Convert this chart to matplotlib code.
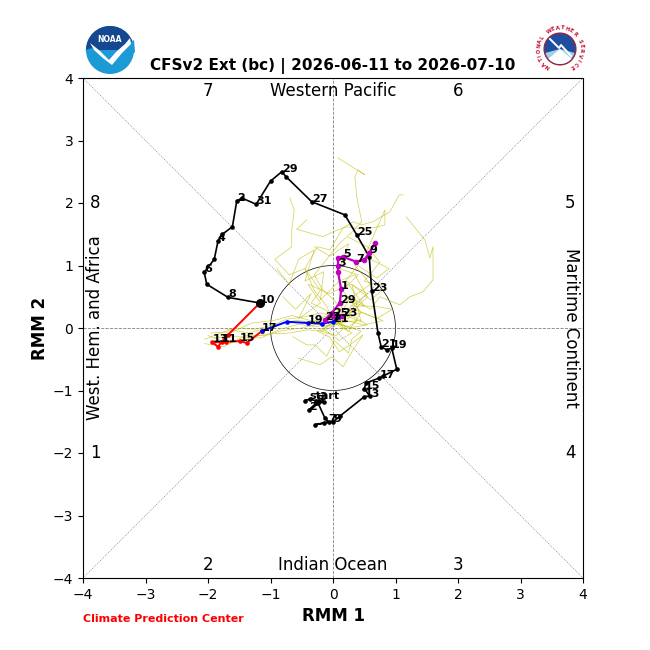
import numpy as np
import matplotlib
matplotlib.use('Agg')
import matplotlib.pyplot as plt
from matplotlib.patches import Circle, Wedge, Polygon

# Observed (black) path
obs_x = [-.45,-.37,-.28,-.22,-.14,-.27,-.38,-.24,-.13,-.07,-.29,-.14,.0,.11,.50,.59,.50,.53,.74,.80,1.02,.94,.86,.77,.72,.62,.58,.38,.19,-.34,-.75,-.82,-1.0,-1.23,-1.46,-1.54,-1.61,-1.77,-1.84,-1.90,-2.06,-2.02,-1.68,-1.17]
obs_y = [-1.16,-1.14,-1.16,-1.16,-1.19,-1.20,-1.31,-1.20,-1.44,-1.50,-1.55,-1.52,-1.50,-1.41,-1.10,-1.09,-.97,-.88,-.80,-.77,-.66,-.32,-.35,-.30,-.08,.59,1.14,1.49,1.81,2.02,2.42,2.50,2.35,1.98,2.08,2.03,1.62,1.50,1.39,1.10,.89,.70,.49,.40]
obs_label_idx = [1,3,5,6,9,12,14,16,18,21,23,25,27,29,31,33,35,38,40,42,43]
obs_labels = ['start','3','5','2','7','9','13','15','17','19','21','23','25','27','29','31','2','4','6','8','10']

# Forecast segments
red_x = [-1.17,-1.68,-1.78,-1.84,-1.93,-1.72,-1.49,-1.38,-1.14]
red_y = [.40,-.11,-.22,-.30,-.23,-.22,-.21,-.24,-.05]
red_label_idx = [2,4,6]
red_labels = ['11','13','15']

blue_x = [-1.14,-.74,-.40,-.18,.0,.10,.14]
blue_y = [-.05,.10,.08,.07,.10,.18,.20]
blue_label_idx = [0,2,4,6]
blue_labels = ['17','19','21','23']

mag_x = [.14,.0,-.13,-.02,.11,.13,.08,.08,.08,.16,.37,.50,.58,.67]
mag_y = [.20,.20,.13,.24,.40,.62,.90,1.00,1.12,1.14,1.06,1.09,1.20,1.36]
mag_label_idx = [1,2,4,5,7,9,10,12]
mag_labels = ['25','27','29','1','3','5','7','9']

# Ensemble members, read by eye
ens_1 = ([.08,.51,.40,.35,.38,.46,.32,.10,-.10,-.30,-.16,.02,.10,.0,.05],
         [2.72,2.45,2.53,2.42,2.10,1.70,1.55,1.35,1.10,.85,.60,.45,.30,.15,.10])
ens_2 = ([1.12,1.06,.91,.64,.46,.32,.16,-.05,-.25,-.45,-.30,-.10,.0],
         [2.13,2.13,1.86,1.70,1.65,1.70,1.60,1.25,1.30,.95,.60,.35,.12])
ens_3 = ([1.17,1.47,1.55,1.60,1.60,1.44,1.23,1.07,.75,.60,.35,.20,.05],
         [1.78,1.41,1.12,1.30,.77,.58,.50,.37,.50,.30,.45,.20,.10])
ens_4 = ([-.69,-.62,-.66,-.66,-.93,-.70,-.45,-.20,-.35,-.10,.05],
         [2.08,1.89,1.57,1.30,1.10,.85,.95,.60,.40,.28,.12])
ens_5 = ([-.42,-.58,-.16,.0,.22,.50,.72,.83,.83,.55,.35,.60,.25,.05],
         [1.73,1.58,1.46,1.54,1.62,1.58,1.62,1.65,1.89,1.25,1.00,.70,.45,.10])
ens_6 = ([-2.05,-1.85,-1.55,-1.25,-.95,-.60,-.35,-.10,.10,.40,.25,.05],
         [-.18,-.10,.0,-.02,.05,.12,.10,.16,.08,.12,.02,.08])
ens_7 = ([-2.05,-1.75,-1.40,-1.10,-.80,-.50,-.25,-.02,.20,.50,.80,.45,.10],
         [-.25,-.30,-.12,-.12,-.04,.0,.06,.03,.12,.05,.12,.25,.10])
ens_8 = ([-1.95,-1.60,-1.30,-.95,-.65,-.30,-.05,.20,.05,-.20,.0],
         [-.08,-.06,.08,.12,.20,.10,.22,.02,-.12,-.05,.08])
ens_9 = ([-2.0,-1.70,-1.45,-1.10,-.70,-.40,-.15,.05,.30,.10,-.15,.02],
         [-.12,-.24,-.20,-.10,-.08,-.03,-.05,.06,-.08,-.20,-.02,.10])
ens_10 = ([-.56,-.21,-.02,.16,.32,.48,.30,.10,-.05,-.25,.02],
          [-.48,-.59,-.46,-.62,-.35,-.11,-.25,-.38,-.15,-.05,.10])
ens_11 = ([-.64,-.42,-.29,-.10,.02,.25,.30,.45,.15,.0],
          [-.14,-.27,-.27,-.45,-.20,-.40,-.18,-.05,.05,.12])
ens_12 = ([-.90,-.70,-.55,-.30,-.45,-.15,-.20,.10,.35,.55,.30,.05],
          [.95,.70,1.10,1.25,.75,.90,.45,.75,.85,.50,.25,.12])
ens_13 = ([.60,.90,.70,.40,.20,.55,.30,.65,.95,.70,.35,.10],
          [1.10,.95,.80,1.00,.75,.55,.35,.35,.30,.15,.30,.10])
ens_14 = ([-.30,-.05,.25,.10,.40,.15,.45,.25,.05],
          [1.30,1.15,1.35,.95,.85,.60,.25,-.05,.10])
ens_15 = ([-1.90,-1.50,-1.15,-.85,-.55,-.25,.0,.30,.55,.25,.0],
          [-.15,-.14,-.16,-.02,.06,.02,.14,.20,.05,.0,.10])
ens_16 = ([-1.70,-1.35,-1.00,-.75,-.45,-.20,.05,.35,.10,-.10],
          [-.02,-.08,.02,.14,.18,.24,.18,.28,.30,.10])
ens_17 = ([-.80,-.60,-.35,-.55,-.20,-.40,-.05,.25,.50,.20,.02],
          [.50,.30,.55,.15,.40,.70,.55,.70,.35,.45,.12])
ens_18 = ([.25,.55,.75,.50,.85,.60,.30,.45,.15,.02],
          [1.45,1.30,1.05,.75,.65,.45,.70,.10,.22,.08])
ens_members = [ens_1, ens_2, ens_3, ens_4, ens_5, ens_6, ens_7, ens_8, ens_9,
               ens_10, ens_11, ens_12, ens_13, ens_14, ens_15, ens_16, ens_17, ens_18]

x_ticks = [-4,-3,-2,-1,0,1,2,3,4]
title = 'CFSv2 Ext (bc) | 2026-06-11 to 2026-07-10'

fig = plt.figure(figsize=(6.5, 6.5), dpi=100)
ax = fig.add_axes([83/650, 72/650, 500/650, 500/650])
ax.set_xlim(-4, 4); ax.set_ylim(-4, 4)
ax.set_xticks(x_ticks); ax.set_yticks(x_ticks)
ax.tick_params(labelsize=10)

ax.plot([-4, 4], [-4, 4], color='gray', lw=0.6, ls=':')
ax.plot([-4, 4], [4, -4], color='gray', lw=0.6, ls=':')
ax.axhline(0, color='gray', lw=0.6, ls='--')
ax.axvline(0, color='gray', lw=0.6, ls='--')
ax.add_patch(Circle((0, 0), 1, fill=False, ec='black', lw=0.5))

for ex, ey in ens_members:
    ax.plot(ex, ey, color='y', lw=0.5, alpha=0.7, zorder=2)

def draw(xs, ys, color, lw, idx, labels, ms=2.3):
    ax.plot(xs, ys, color=color, lw=lw, marker='o', ms=ms, zorder=3)
    for i, s in zip(idx, labels):
        ax.text(xs[i], ys[i], s, fontsize=8, fontweight='bold', color='black', zorder=6)

draw(obs_x, obs_y, 'black', 1.2, obs_label_idx, obs_labels)
ax.plot(obs_x[-1], obs_y[-1], 'o', color='black', ms=5.5, zorder=5)
draw(red_x, red_y, 'red', 1.4, red_label_idx, red_labels)
draw(blue_x, blue_y, 'blue', 1.4, blue_label_idx, blue_labels)
draw(mag_x, mag_y, 'm', 1.6, mag_label_idx, mag_labels, ms=3)

for s, x, y in [('7', -2, 3.8), ('6', 2, 3.8), ('8', -3.8, 2), ('5', 3.8, 2),
                ('1', -3.8, -2), ('4', 3.8, -2), ('2', -2, -3.8), ('3', 2, -3.8)]:
    ax.text(x, y, s, fontsize=12, ha='center', va='center')
ax.text(0, 3.8, 'Western Pacific', fontsize=12, ha='center', va='center')
ax.text(0, -3.8, 'Indian Ocean', fontsize=12, ha='center', va='center')
ax.text(-3.8, 0, 'West. Hem. and Africa', fontsize=12, rotation=90, ha='center', va='center')
ax.text(3.8, 0, 'Maritime Continent', fontsize=12, rotation=-90, ha='center', va='center')

ax.set_xlabel('RMM 1', fontsize=12, fontweight='bold', labelpad=4)
ax.set_ylabel('RMM 2', fontsize=12, fontweight='bold', labelpad=3)
ax.set_title(title, fontsize=11, fontweight='bold', pad=6)
ax.text(-4, -4.70, 'Climate Prediction Center', fontsize=8, fontweight='bold', color='red')

# logos drawn on a full-figure pixel overlay
ov = fig.add_axes([0, 0, 1, 1], zorder=-1)
ov.set_xlim(0, 650); ov.set_ylim(650, 0); ov.axis('off')
# NOAA
ov.add_patch(Circle((110, 50), 24, fc='#1c9ad6', ec='none'))
ov.add_patch(Wedge((110, 50), 24, 180, 360, fc='#14488f', ec='none'))
ov.add_patch(Polygon([[85, 50], [92, 48], [104, 55], [112, 61], [122, 47], [134, 40], [135, 52], [125, 62],
                      [114, 68], [104, 66], [96, 58]], fc='#1c9ad6', ec='none'))
ov.add_patch(Polygon([[90, 43], [100, 51], [109, 60], [116, 52], [125, 44], [130, 38], [131, 44], [122, 53],
                      [112, 65], [104, 59], [94, 50]], fc='white', ec='none'))
ov.text(110, 39, 'NOAA', color='white', fontsize=5.5, fontweight='bold', ha='center', va='center')
# NWS
cx, cy = 560, 49
ov.add_patch(Circle((cx, cy), 16, fc='#1f4ea1', ec='#b01c2e', lw=0.8))
ov.add_patch(Wedge((cx, cy), 15, 15, 165, fc='#9fd0e8', ec='none'))
ov.add_patch(Wedge((cx, cy), 15, 40, 140, fc='white', ec='none'))
ov.plot([cx-10, cx-1, cx+1, cx+11], [cy-10, cy-1, cy-4, cy+7], color='white', lw=1.4)
letters = 'NATIONAL WEATHER SERVICE'
angs = np.linspace(235, -55, len(letters))
for ch, a in zip(letters, angs):
    r = 21
    ov.text(cx + r*np.cos(np.radians(a)), cy - r*np.sin(np.radians(a)), ch, fontsize=3.8, color='#c8102e',
            fontweight='bold', rotation=a-90, ha='center', va='center')

fig.savefig('out.png', dpi=100)
